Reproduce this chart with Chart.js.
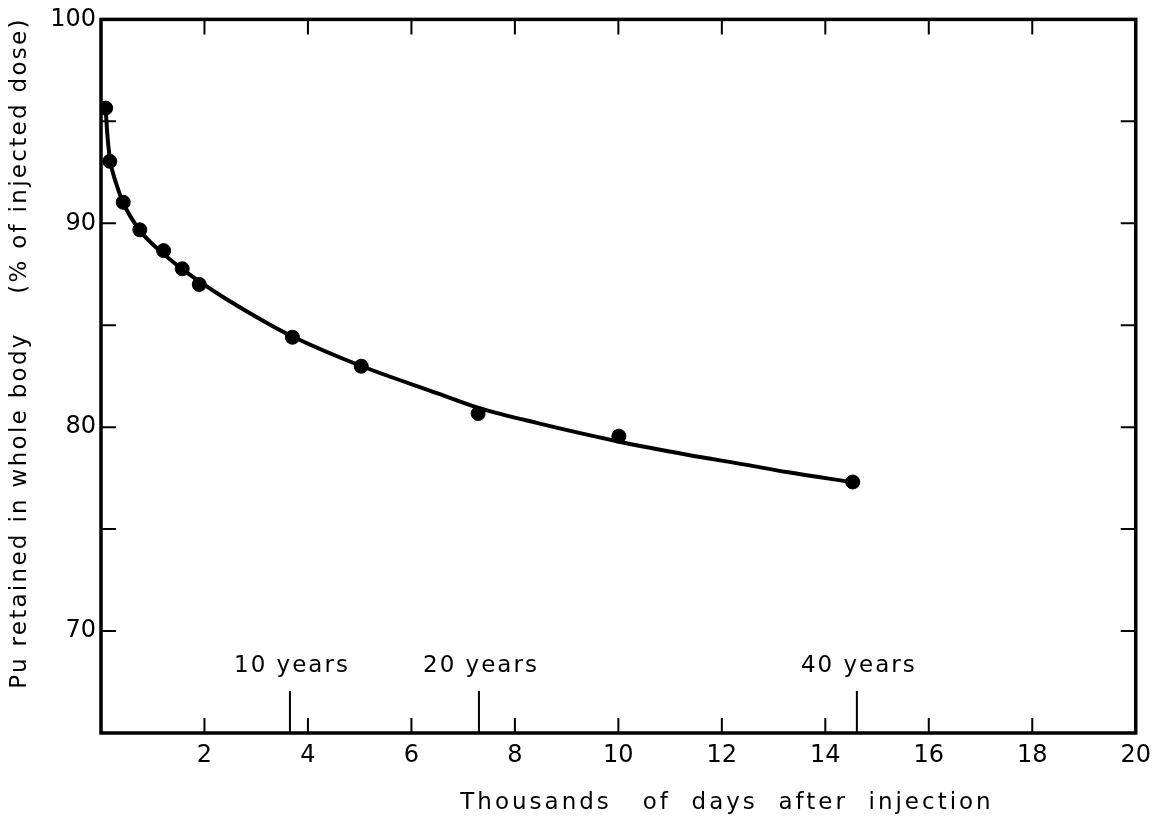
<!DOCTYPE html>
<html>
<head>
<meta charset="utf-8">
<script src="https://cdn.jsdelivr.net/npm/chart.js@4"></script>
<style>
  html, body { margin: 0; padding: 0; background: #fff; }
  #wrap { width: 1159px; height: 824px; }
</style>
</head>
<body>
<div id="wrap"><canvas id="retention"></canvas></div>
<script>
// measured points: thousands of days after injection vs % retained
const pointDays = [0.09, 0.17, 0.43, 0.75, 1.21, 1.57, 1.90, 3.70, 5.03, 7.29, 10.01, 14.53];
const pointPct  = [95.65, 93.04, 91.03, 89.68, 88.66, 87.77, 87.0, 84.41, 82.99, 80.67, 79.56, 77.31];

// fitted curve
const curveDays = [0.09, 0.12, 0.17, 0.30, 0.43, 0.75, 1.21, 1.57, 1.90, 2.38, 3.25, 3.70, 5.03, 6.52, 7.30, 8.44, 10.0, 11.33, 12.48, 13.25, 14.53];
const curvePct  = [95.65, 94.45, 93.2, 91.9, 91.0, 89.65, 88.5, 87.75, 87.15, 86.35, 85.05, 84.45, 83.0, 81.65, 80.95, 80.2, 79.3, 78.65, 78.15, 77.8, 77.3];

// age markers on the x axis
const yearDays   = [3.652, 7.305, 14.61];
const yearLabels = ['10 years', '20 years', '40 years'];

const xTicks = [2, 4, 6, 8, 10, 12, 14, 16, 18];
const yTicks = [70, 75, 80, 85, 90, 95];

const FONT = '"DejaVu Sans", sans-serif';

const frame = {
  id: 'frame',
  afterDatasetsDraw(chart) {
    const { ctx, chartArea: a, scales: { x, y } } = chart;
    ctx.save();
    ctx.strokeStyle = '#000';
    ctx.lineWidth = 3.5;
    ctx.strokeRect(a.left, a.top, a.right - a.left, a.bottom - a.top);

    ctx.lineWidth = 2;
    ctx.beginPath();
    xTicks.forEach(v => {
      const px = x.getPixelForValue(v);
      ctx.moveTo(px, a.bottom); ctx.lineTo(px, a.bottom - 15);
      ctx.moveTo(px, a.top); ctx.lineTo(px, a.top + 15);
    });
    yTicks.forEach(v => {
      const py = y.getPixelForValue(v);
      ctx.moveTo(a.left, py); ctx.lineTo(a.left + 15, py);
      ctx.moveTo(a.right, py); ctx.lineTo(a.right - 15, py);
    });
    yearDays.forEach(v => {
      const px = x.getPixelForValue(v);
      ctx.moveTo(px, a.bottom); ctx.lineTo(px, a.bottom - 42);
    });
    ctx.stroke();

    ctx.fillStyle = '#000';
    ctx.font = '23px ' + FONT;
    ctx.letterSpacing = '2px';
    ctx.textAlign = 'center';
    ctx.textBaseline = 'middle';
    yearDays.forEach((v, i) => {
      ctx.fillText(yearLabels[i], x.getPixelForValue(v) + 2, a.bottom - 67);
    });

    // axis titles
    ctx.font = '23px ' + FONT;
    ctx.letterSpacing = '3px';
    ctx.fillText('Thousands   of  days  after  injection', 727, 803);
    ctx.letterSpacing = '2.3px';
    ctx.translate(20, 353);
    ctx.rotate(-Math.PI / 2);
    ctx.fillText('Pu retained in whole body    (% of injected dose)', 0, 0);
    ctx.restore();
  }
};

new Chart(document.getElementById('retention'), {
  type: 'scatter',
  data: {
    datasets: [
      {
        label: 'fit',
        type: 'line',
        data: curveDays.map((d, i) => ({ x: d, y: curvePct[i] })),
        borderColor: '#000',
        borderWidth: 4,
        pointRadius: 0,
        cubicInterpolationMode: 'monotone',
        fill: false
      },
      {
        label: 'measured',
        data: pointDays.map((d, i) => ({ x: d, y: pointPct[i] })),
        backgroundColor: '#000',
        borderColor: '#000',
        pointRadius: 7,
        pointHoverRadius: 7
      }
    ]
  },
  options: {
    responsive: true,
    maintainAspectRatio: false,
    animation: false,
    layout: { padding: { top: 18, right: 19, left: 0, bottom: 0 } },
    plugins: { legend: { display: false }, tooltip: { enabled: false } },
    scales: {
      x: {
        type: 'linear',
        min: 0,
        max: 20,
        grid: { display: false, drawTicks: false },
        border: { display: false },
        afterFit(scale) { scale.height = 91; },
        afterBuildTicks(scale) { scale.ticks = xTicks.concat([20]).map(v => ({ value: v })); },
        ticks: {
          color: '#000',
          font: { family: FONT, size: 24 },
          padding: 8,
          maxRotation: 0,
          autoSkip: false
        }
      },
      y: {
        min: 65,
        max: 100,
        grid: { display: false, drawTicks: false },
        border: { display: false },
        afterFit(scale) { scale.width = 101; },
        afterBuildTicks(scale) { scale.ticks = [70, 80, 90, 100].map(v => ({ value: v })); },
        ticks: {
          color: '#000',
          font: { family: FONT, size: 24 },
          padding: 5
        }
      }
    }
  },
  plugins: [frame]
});
</script>
</body>
</html>
